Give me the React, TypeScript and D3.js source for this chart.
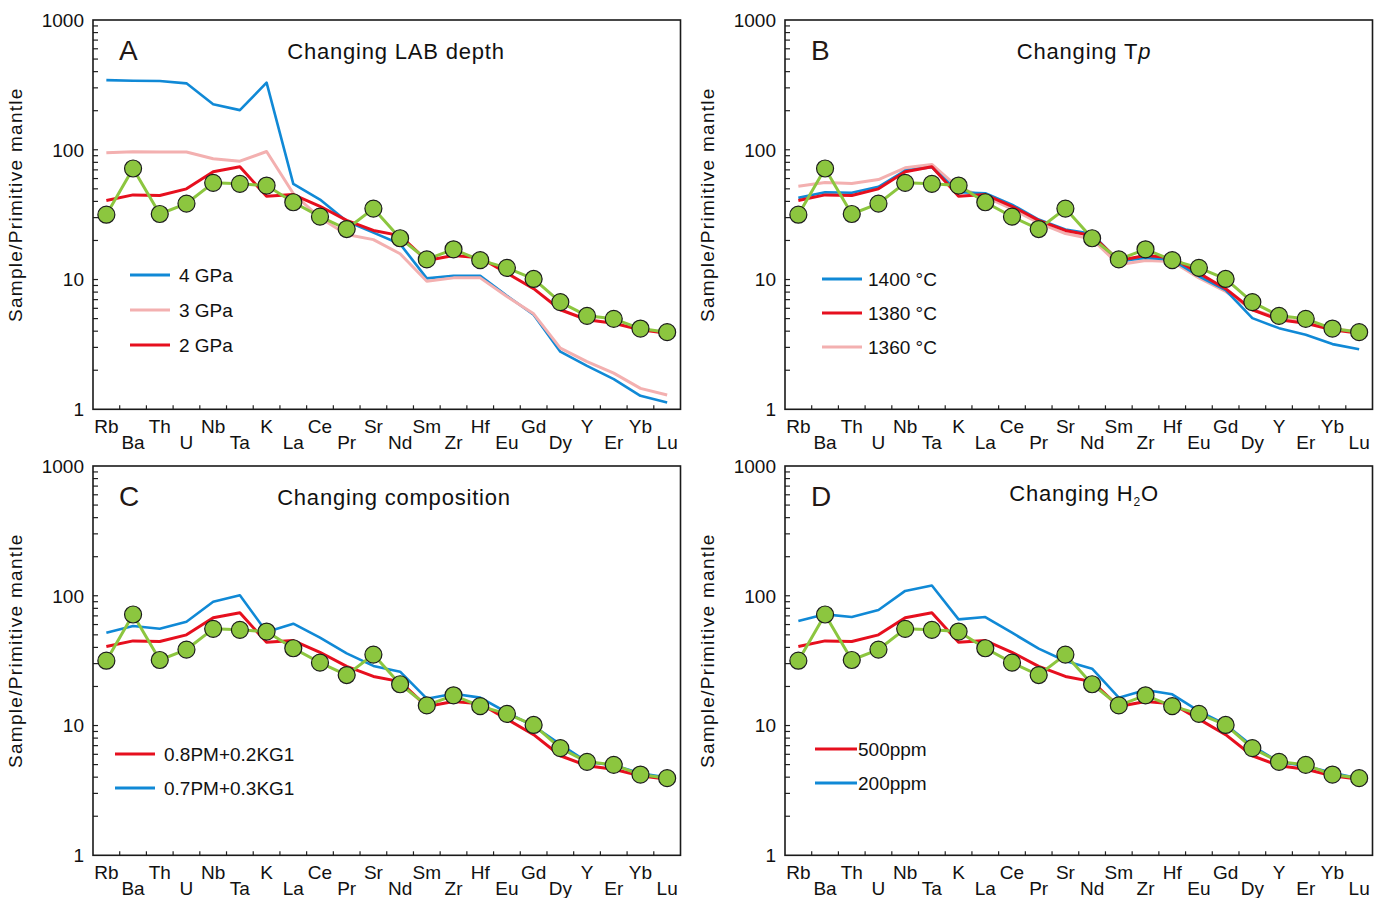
import React from "react";
import * as d3 from "d3";

const elements = ["Rb","Ba","Th","U","Nb","Ta","K","La","Ce","Pr","Sr","Nd","Sm","Zr","Hf","Eu","Gd","Dy","Y","Er","Yb","Lu"];
const yTicks = [1, 10, 100, 1000];

const sample = [31.6,71.7,32,38.5,55.6,54.6,53,39.4,30.5,24.5,35.2,20.8,14.3,17.1,14.1,12.3,10.1,6.7,5.25,4.98,4.19,3.93];
const gpa4 = [344,340,339,325,224,202,329,54.6,41.3,28.1,23,18.8,10.2,10.7,10.7,7.5,5.35,2.78,2.16,1.71,1.27,1.13];
const gpa3 = [94.8,96.6,96,96,85.3,81.7,97,46,29.9,22.2,20.3,15.8,9.7,10.3,10.3,7.4,5.44,2.96,2.33,1.9,1.45,1.29];
const base = [40.6,44.9,44.4,50,67.6,73.9,43.8,45.2,36.7,28.6,23.9,21.8,14,15.3,14.7,11.2,8.5,5.85,4.9,4.61,4.1,3.86];
const tp1400 = [42.6,47.1,46.7,51.8,69.2,73.4,47,46.2,37.8,29,24.3,22.5,13.8,14.7,14.2,10.6,8.3,5.04,4.22,3.75,3.18,2.9];
const tp1360 = [52.3,55.9,55,59,72.6,77,50.9,43.4,35,27.3,22.6,20.5,13,14,13.8,10.3,8.1,5.85,5.05,4.67,4.15,3.97];
const kg03 = [51.9,58.4,55.7,63.1,90,101,52.6,60.9,47.5,36,28.8,26,16.1,17.6,16.4,12.6,9.9,7.16,5.24,4.94,4.28,3.97];
const h2o200 = [63.9,71.9,68.6,77.6,109,120,65.8,68.6,51.9,39.1,31.4,27.4,16.4,18.8,17.4,12.9,10.2,6.96,5.24,4.88,4.33,3.9];

const BLUE = "#1089d6";
const RED = "#e60f1e";
const PINK = "#f3b0b0";
const GREEN = "#8cc63f";
const FONT = "'Liberation Sans', Arial, sans-serif";

type Series = { name: string; values: number[]; color: string; width: number };

const W = 587.5;
const H = 389.3;

type PanelDef = {
  x: number; y: number; letter: string; title: React.ReactNode; titleX: number;
  series: Series[]; legend: Series[]; legX: number; legY: number; legTextX: number; legLen: number; legGap: number;
};

const panels: PanelDef[] = [
  {
    x: 93, y: 20, letter: "A", title: "Changing LAB depth", titleX: 396,
    series: [
      { name: "4 GPa", values: gpa4, color: BLUE, width: 2.6 },
      { name: "3 GPa", values: gpa3, color: PINK, width: 3 },
      { name: "2 GPa", values: base, color: RED, width: 3 },
    ],
    legend: [],
    legX: 130, legY: 275, legTextX: 179, legLen: 40, legGap: 35,
  },
  {
    x: 785, y: 20, letter: "B", title: null, titleX: 1084,
    series: [
      { name: "1360 °C", values: tp1360, color: PINK, width: 3 },
      { name: "1400 °C", values: tp1400, color: BLUE, width: 2.6 },
      { name: "1380 °C", values: base, color: RED, width: 3 },
    ],
    legend: [],
    legX: 822, legY: 279, legTextX: 868, legLen: 40, legGap: 34,
  },
  {
    x: 93, y: 466, letter: "C", title: "Changing composition", titleX: 394,
    series: [
      { name: "0.8PM+0.2KG1", values: base, color: RED, width: 3 },
      { name: "0.7PM+0.3KG1", values: kg03, color: BLUE, width: 2.6 },
    ],
    legend: [],
    legX: 115, legY: 754, legTextX: 164, legLen: 40, legGap: 34,
  },
  {
    x: 785, y: 466, letter: "D", title: null, titleX: 1084,
    series: [
      { name: "500ppm", values: base, color: RED, width: 3 },
      { name: "200ppm", values: h2o200, color: BLUE, width: 2.6 },
    ],
    legend: [],
    legX: 815, legY: 749, legTextX: 858, legLen: 42, legGap: 34,
  },
];
panels[0].legend = [panels[0].series[0], panels[0].series[1], panels[0].series[2]];
panels[1].legend = [panels[1].series[1], panels[1].series[2], panels[1].series[0]];
panels[2].legend = [panels[2].series[0], panels[2].series[1]];
panels[3].legend = [panels[3].series[0], panels[3].series[1]];

function Panel({ p }: { p: PanelDef }) {
  const x = d3.scaleBand<string>().domain(elements).range([p.x, p.x + W]).paddingInner(0).paddingOuter(0);
  const y = d3.scaleLog().domain([1, 1000]).range([p.y + H, p.y]);
  const cx = (i: number) => (x(elements[i]) as number) + x.bandwidth() / 2;
  const line = d3.line<number>().x((_, i) => cx(i)).y((v) => y(v));
  const bottom = p.y + H;

  const minor: number[] = [];
  for (let dec = 1; dec < 1000; dec *= 10) for (let k = 1; k < 10; k++) if (!(k === 1 && dec === 1)) minor.push(k * dec);

  let titleNode: React.ReactNode = p.title;
  if (p.letter === "B") titleNode = (<>Changing T<tspan fontStyle="italic">p</tspan></>);
  if (p.letter === "D") titleNode = (<>Changing H<tspan fontSize={12} dy={5}>2</tspan><tspan dy={-5}>O</tspan></>);

  return (
    <g>
      {/* y axis label */}
      <text
        transform={`translate(${p.x - 71},${p.y + H / 2 - 10}) rotate(-90)`}
        textAnchor="middle" fontSize={19} letterSpacing={1.3} fontFamily={FONT} fill="#111"
      >Sample/Primitive mantle</text>
      {/* y ticks */}
      {minor.map((v) => (
        <line key={v} x1={p.x} x2={p.x + 5} y1={y(v)} y2={y(v)} stroke="#222" strokeWidth={1.2} />
      ))}
      {yTicks.map((v) => (
        <text key={v} x={p.x - 9} y={y(v)} dy="0.36em" textAnchor="end" fontSize={19} fontFamily={FONT} fill="#111">{v}</text>
      ))}
      {/* x ticks */}
      {elements.slice(1).map((e) => (
        <line key={e} x1={x(e) as number} x2={x(e) as number} y1={bottom} y2={bottom - 4} stroke="#222" strokeWidth={1.2} />
      ))}
      {elements.map((e, i) => (
        <text key={e} x={cx(i)} y={bottom + (i % 2 === 0 ? 24 : 40)} textAnchor="middle" fontSize={19} fontFamily={FONT} fill="#111">{e}</text>
      ))}
      {/* series */}
      {p.series.map((s) => (
        <path key={s.name} d={line(s.values) as string} fill="none" stroke={s.color} strokeWidth={s.width} strokeLinejoin="round" />
      ))}
      <path d={line(sample) as string} fill="none" stroke={GREEN} strokeWidth={3} strokeLinejoin="round" />
      {sample.map((v, i) => (
        <circle key={i} cx={cx(i)} cy={y(v)} r={8.5} fill={GREEN} stroke="#1c1c1c" strokeWidth={1.2} />
      ))}
      {/* frame */}
      <rect x={p.x} y={p.y} width={W} height={H} fill="none" stroke="#1a1a1a" strokeWidth={1.6} />
      {/* letter & title */}
      <text x={p.x + 26} y={p.y + 40} fontSize={28} fontFamily={FONT} fill="#231815">{p.letter}</text>
      <text x={p.titleX} y={p.y + (p.letter === "D" ? 35 : 39)} textAnchor="middle" fontSize={22} letterSpacing={0.8} fontFamily={FONT} fill="#111">{titleNode}</text>
      {/* legend */}
      {p.legend.map((s, i) => (
        <g key={s.name}>
          <line x1={p.legX} x2={p.legX + p.legLen} y1={p.legY + i * p.legGap} y2={p.legY + i * p.legGap} stroke={s.color} strokeWidth={3.2} />
          <text x={p.legTextX} y={p.legY + i * p.legGap} dy="0.36em" fontSize={19} fontFamily={FONT} fill="#111">{s.name}</text>
        </g>
      ))}
    </g>
  );
}

export default function App() {
  return (
    <div style={{ position: "absolute", left: 0, top: 0 }}>
      <svg width={1385} height={898} viewBox="0 0 1385 898" style={{ display: "block", background: "#fff" }}>
        {panels.map((p) => (
          <Panel key={p.letter} p={p} />
        ))}
      </svg>
    </div>
  );
}
